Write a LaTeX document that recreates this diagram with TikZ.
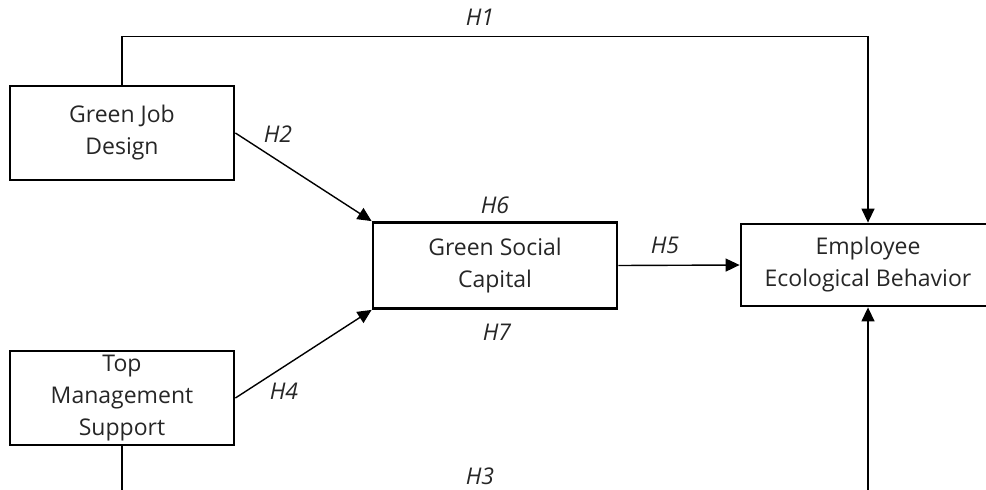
\documentclass[tikz,border=0pt]{standalone}
\usepackage{fontspec}
\setmainfont{Open Sans}
\usetikzlibrary{arrows.meta,positioning}

\tikzset{
  construct/.style={draw=black, line width=2.8pt, align=center, inner sep=0pt,
    font=\fontsize{23}{32}\selectfont, text=black!85},
  hyp/.style={font=\fontsize{23}{26}\selectfont\itshape, text=black!85},
  link/.style={line width=1.4pt, -{Triangle[length=14pt,width=13pt]}}
}

\begin{document}
\begin{tikzpicture}[x=1pt,y=-1pt]
  \useasboundingbox (0,0) rectangle (986,490);

  % constructs
  \node[construct, minimum width=224, minimum height=94] (gjd) at (122,133) {Green Job\\Design};
  \node[construct, minimum width=224, minimum height=94] (tms) at (122,398) {Top\\Management\\Support};
  \node[construct, minimum width=244, minimum height=86] (gsc) at (495,265.5) {Green Social\\Capital};
  \node[construct, minimum width=254, minimum height=82] (eeb) at (868,265) {Employee\\Ecological Behavior};

  % hypotheses
  \draw[link] (gjd.north) -- ++(0,-48) -| (eeb.north);
  \draw[link] (gjd.east) -- (gsc.north west);
  \draw[link] (tms.east) -- (gsc.south west);
  \draw[link] (gsc.east) -- (eeb.west);
  \draw[link] (tms.south) -- ++(0,60) -| (eeb.south);

  \node[hyp] (h1) at (480,17)  {H1};
  \node[hyp] (h2) at (278,134) {H2};
  \node[hyp] (h3) at (480,476) {H3};
  \node[hyp] (h4) at (284,391) {H4};
  \node[hyp] (h5) at (665,245) {H5};
  \node[hyp] (h6) at (495,205) {H6};
  \node[hyp] (h7) at (497,332) {H7};
\end{tikzpicture}
\end{document}
